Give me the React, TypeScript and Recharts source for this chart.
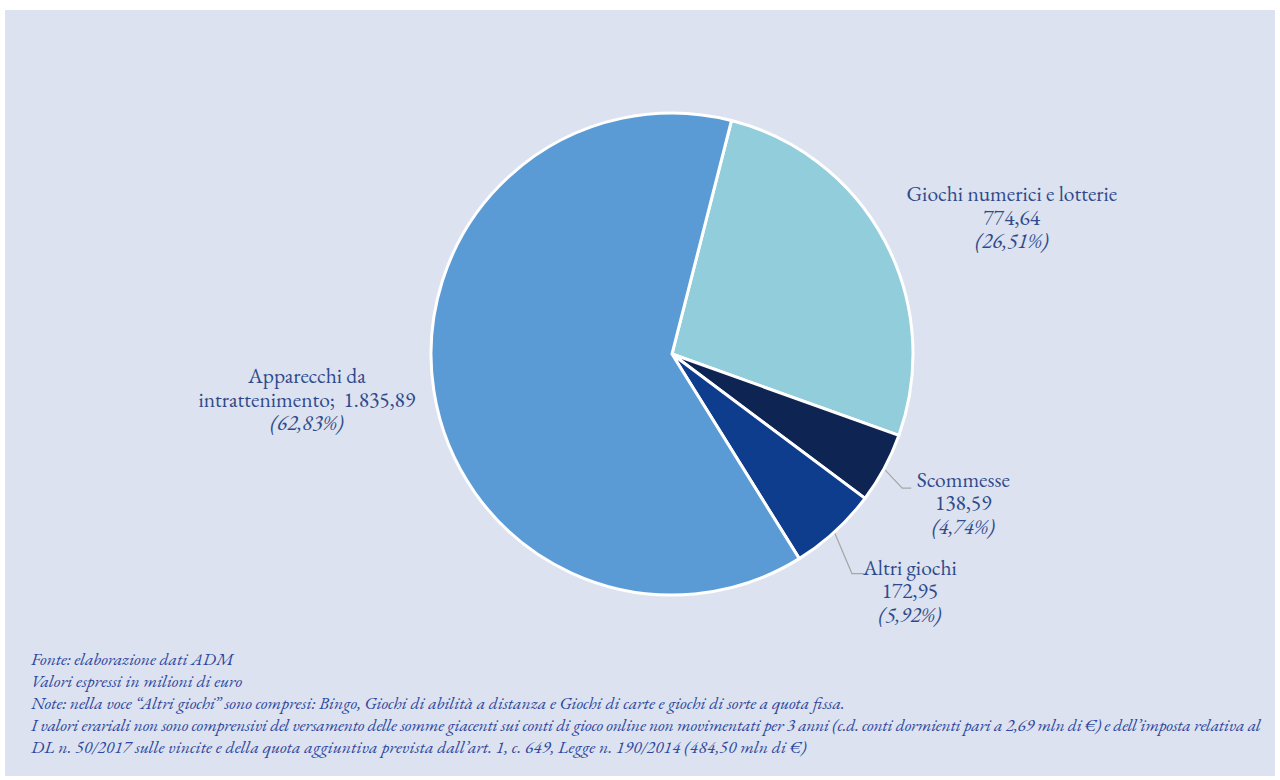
import React from 'react';
import { PieChart, Pie, Cell } from 'recharts';

const categories = ['Giochi numerici e lotterie', 'Scommesse', 'Altri giochi', 'Apparecchi da intrattenimento'];
const values = [774.64, 138.59, 172.95, 1835.89];
const valueLabels = ['774,64', '138,59', '172,95', '1.835,89'];
const percentLabels = ['(26,51%)', '(4,74%)', '(5,92%)', '(62,83%)'];
const colors = ['#92CDDC', '#0E2553', '#0F3D8E', '#5B9BD5'];

const footnotes = [
  'Fonte: elaborazione dati ADM',
  'Valori espressi in milioni di euro',
  'Note: nella voce \u201CAltri giochi\u201D sono compresi: Bingo, Giochi di abilità a distanza e Giochi di carte e giochi di sorte a quota fissa.',
  'I valori erariali non sono comprensivi del versamento delle somme giacenti sui conti di gioco online non movimentati per 3 anni (c.d. conti dormienti pari a 2,69 mln di €) e dell\u2019imposta relativa al',
  'DL n. 50/2017 sulle vincite e della quota aggiuntiva prevista dall\u2019art. 1, c. 649, Legge n. 190/2014 (484,50 mln di €)',
];

const footnoteLetterSpacing = [0, 0, 0, -0.22, 0.1];

const data = categories.map((name, i) => ({ name, value: values[i] }));

// label block placement relative to slice outer edge at mid angle
const labelCfg = [
  { dx: 127, dy: -48, leader: null as null | number[] },
  { dx: 79, dy: 10.5, leader: [1, 2, 18, 20, 27, 20] },
  { dx: 75, dy: 35, leader: [0, 2, 17, 42, 29, 42] },
  { dx: -127, dy: -16, leader: null as null | number[] },
];

const TEXT = '#2F4A8C';
const FONT = '"EB Garamond", "Liberation Serif", serif';

const renderLabel = (props: any) => {
  const { cx, cy, midAngle, outerRadius, index } = props;
  const RAD = Math.PI / 180;
  const ex = cx + outerRadius * Math.cos(-midAngle * RAD);
  const ey = cy + outerRadius * Math.sin(-midAngle * RAD);
  const cfg = labelCfg[index];
  const tx = ex + cfg.dx;
  const ty = ey + cfg.dy;
  const lh = 23.7;
  const first = index === 3 ? 'Apparecchi da' : categories[index];
  const second = index === 3 ? 'intrattenimento;  ' + valueLabels[index] : valueLabels[index];
  const common = { textAnchor: 'middle' as const, dominantBaseline: 'central' as const, fill: TEXT, fontFamily: FONT, fontSize: 21.5 };
  return (
    <g>
      {cfg.leader && (
        <polyline
          points={`${ex + cfg.leader[0]},${ey + cfg.leader[1]} ${ex + cfg.leader[2]},${ey + cfg.leader[3]} ${ex + cfg.leader[4]},${ey + cfg.leader[5]}`}
          fill="none"
          stroke="#A6A6A6"
          strokeWidth={1.2}
        />
      )}
      <text x={tx} y={ty} {...common} style={{ whiteSpace: 'pre' }}>
        {first}
      </text>
      <text x={tx} y={ty + lh} {...common} style={{ whiteSpace: 'pre' }}>
        {second}
      </text>
      <text x={tx} y={ty + 2 * lh} {...common} fontStyle="italic">
        {percentLabels[index]}
      </text>
    </g>
  );
};

export default function App() {
  return (
    <div style={{ position: 'fixed', left: 0, top: 0, width: 1280, height: 780, background: '#ffffff', overflow: 'hidden' }}>
      <div style={{ position: 'absolute', left: 5, top: 10, width: 1270, height: 766, background: '#DCE2EF' }} />
      <div style={{ position: 'absolute', left: 0, top: 0 }}>
        <PieChart width={1280} height={640} margin={{ top: 0, right: 0, bottom: 0, left: 0 }}>
          <Pie
            data={data}
            dataKey="value"
            nameKey="name"
            cx={672}
            cy={354}
            outerRadius={241}
            startAngle={75.7}
            endAngle={75.7 - 360}
            stroke="#FFFFFF"
            strokeWidth={3}
            label={renderLabel}
            labelLine={false}
            isAnimationActive={false}
          >
            {data.map((d, i) => (
              <Cell key={d.name} fill={colors[i]} />
            ))}
          </Pie>
        </PieChart>
      </div>
      <div style={{ position: 'absolute', left: 31, top: 648, fontFamily: FONT, fontStyle: 'italic', fontSize: 17.6, lineHeight: '22px', color: '#2E47A0', whiteSpace: 'nowrap' }}>
        {footnotes.map((t, i) => (
          <div key={t} style={{ letterSpacing: footnoteLetterSpacing[i] }}>{t}</div>
        ))}
      </div>
    </div>
  );
}
